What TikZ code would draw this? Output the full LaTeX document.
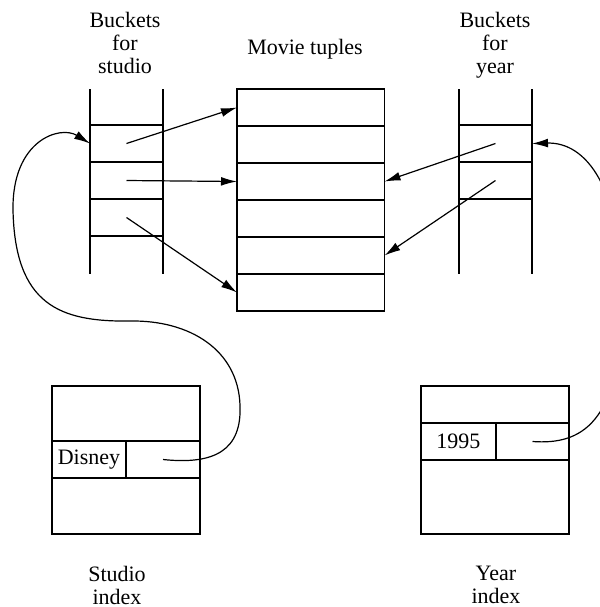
\documentclass[tikz,border=0pt]{standalone}
\usepackage{fontspec}
\setmainfont{Liberation Serif}
\usetikzlibrary{arrows.meta, positioning, calc}

\begin{document}
\begin{tikzpicture}[
  x=0.5pt, y=-0.5pt,
  >={Latex[length=8pt, width=4.4pt]},
  arr/.style={->, line width=0.6pt},
  font=\fontsize{11}{11.5}\selectfont,
]

% =============================================
% Cell styles
% =============================================
\tikzset{
  cell/.style 2 args={
    draw, line width=0.65pt, inner sep=0pt, outer sep=0pt,
    minimum width=#1, minimum height=#2,
  },
  caption/.style={align=center, anchor=north, inner sep=0pt},
}

\useasboundingbox (0,0) rectangle (600,607);

% =============================================
% Buckets for studio
% =============================================
\draw[line width=0.65pt] (90,89) -- (90,274) (163,89) -- (163,274);
\foreach \i/\yy in {1/143.5, 2/180.5, 3/217.5}
  \node[cell={36.5pt}{18.5pt}] (sb\i) at (126.5,\yy) {};

% =============================================
% Movie tuples
% =============================================
\foreach \i in {1,...,6}
  \node[cell={73.75pt}{18.5pt}] (mt\i) at (310.75,{70.5+37*\i}) {};

% =============================================
% Buckets for year
% =============================================
\draw[line width=0.65pt] (459,89) -- (459,274) (532,89) -- (532,274);
\foreach \i/\yy in {1/143.5, 2/180.5}
  \node[cell={36.5pt}{18.5pt}] (yb\i) at (495.5,\yy) {};

% =============================================
% Studio index
% =============================================
\node[cell={74pt}{27.5pt}] (stop) at (126,413.5) {};
\node[cell={37pt}{18.5pt}, anchor=north west] (skey) at (stop.south west) {Disney};
\node[cell={37pt}{18.5pt}, anchor=north east] (sptr) at (stop.south east) {};
\node[cell={74pt}{28pt}, anchor=north west] (sbot) at (skey.south west) {};

% =============================================
% Year index
% =============================================
\node[cell={74pt}{18.5pt}] (ytop) at (495,404.5) {};
\node[cell={37.5pt}{18.5pt}, anchor=north west] (ykey) at (ytop.south west) {1995};
\node[cell={36.5pt}{18.5pt}, anchor=north east] (yptr) at (ytop.south east) {};
\node[cell={74pt}{37pt}, anchor=north west] (ybot) at (ykey.south west) {};

% =============================================
% Bucket pointers to tuples
% =============================================
\draw[arr] (sb1.center) -- (mt1.west);
\draw[arr] (sb2.center) -- (mt3.west);
\draw[arr] (sb3.center) -- (mt6.west);
\draw[arr] (yb1.center) -- (mt3.east);
\draw[arr] (yb2.center) -- (mt5.east);

% =============================================
% Index pointers to buckets
% =============================================
\draw[arr] (sptr.center) .. controls (215,465) and (242,450) .. (240,405)
  .. controls (238,350) and (190,320) .. (130,321)
  .. controls (60,322) and (15,305) .. (13,210)
  .. controls (12,140) and (60,125) .. (sb1.west);

\draw[arr] (yptr.center) .. controls (580,445) and (622,425) .. (622,300)
  .. controls (622,185) and (585,142) .. (yb1.east);

% =============================================
% Captions
% =============================================
\node[caption] (bstudio) at (125,12) {Buckets\\for\\studio};
\node[caption] (tuples) at (305,39) {Movie tuples};
\node[caption] (byear) at (495,12) {Buckets\\for\\year};
\node[caption] (sindex) at (117,566) {Studio\\index};
\node[caption] (yindex) at (496,566) {Year\\index};

\end{tikzpicture}
\end{document}
